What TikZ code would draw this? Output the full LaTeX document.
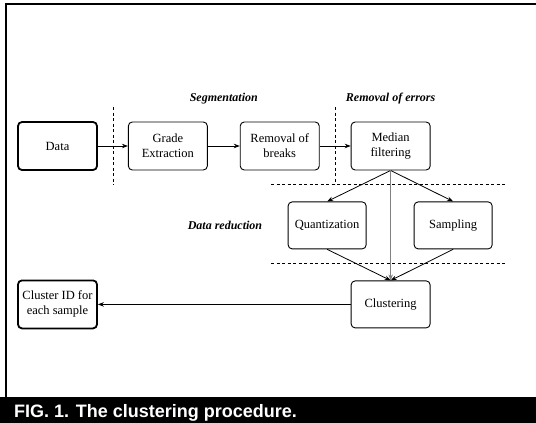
\documentclass[tikz,border=0pt]{standalone}
\usepackage{fontspec}
\setmainfont{Liberation Serif}
\newfontfamily\capfont{Liberation Sans}
\usetikzlibrary{arrows.meta, positioning, calc}

\begin{document}
\begin{tikzpicture}[x=1pt, y=1pt,
            font=\fontsize{12.5}{15}\selectfont,
            block/.style = {rectangle, rounded corners=4pt, draw, line width=0.9pt, inner sep=3pt, minimum width=79pt, minimum height=48pt, align=center},
            io/.style = {block, line width=1.8pt},
            arrow/.style = {-{Stealth[length=6pt, width=4.5pt]}, line width=0.8pt},
            sep/.style = {dash pattern=on 3pt off 2.5pt, line width=0.8pt},
            phase/.style = {font=\fontsize{12}{15}\selectfont\bfseries\itshape}]
            \useasboundingbox (0,0) rectangle (536,-423);
            % frame and caption
            \draw [line width=1.2pt] (6,-397) -- (6,-4) -- (536,-4);
            \fill (0,-397) rectangle (536,-423);
            \node (caption) [anchor=base west, text=white, inner sep=0pt, font=\capfont\bfseries\fontsize{18}{20}\selectfont] at (14,-417) {FIG. 1. The clustering procedure.};
            % nodes
            \node [io] (data) at (57.5,-146) {Data};
            \node [block, right=30pt of data] (grade) {Grade\\Extraction};
            \node [block, right=32pt of grade] (breaks) {Removal of\\breaks};
            \node [block, right=31pt of breaks] (median) {Median\\filtering};
            \node [block, minimum width=78pt, minimum height=47pt, below=31pt of median, xshift=-63.5pt] (quant) {Quantization};
            \node [block, minimum width=78pt, minimum height=47pt, below=31pt of median, xshift=62.5pt] (sampl) {Sampling};
            \node [block, minimum height=47pt, below=110pt of median] (clust) {Clustering};
            \node [io] (clid) at (data |- clust) {Cluster ID for\\each sample};
            % separators
            \coordinate (s1) at ($(data.east)!.5!(grade.west)$);
            \coordinate (s2) at ($(breaks.east)!.5!(median.west)$);
            \draw [sep] ([yshift=39pt]s1) -- ([yshift=-39pt]s1);
            \draw [sep] ([yshift=39pt]s2) -- ([yshift=-38pt]s2);
            \draw [sep] (271,-184) -- (507,-184);
            \draw [sep] (271,-263) -- (507,-263);
            % Connections
            \draw [arrow] (data) -- (grade);
            \draw [arrow] (grade) -- (breaks);
            \draw [arrow] (breaks) -- (median);
            \draw [arrow] (median.south) -- (quant.north);
            \draw [arrow] (median.south) -- (sampl.north);
            \draw [arrow, gray, line width=0.5pt] (median.south) -- (clust.north);
            \draw [arrow] (quant.south) -- (clust.north);
            \draw [arrow] (sampl.south) -- (clust.north);
            \draw [arrow] (clust) -- (clid);
            % Text
            \node (seg) [phase] at ($(grade.north)!.5!(breaks.north)+(0,23)$) {Segmentation};
            \node (err) [phase] at ($(median.north)+(0,23)$) {Removal of errors};
            \node (red) [phase, left=22pt of quant] {Data reduction};
\end{tikzpicture}
\end{document}
